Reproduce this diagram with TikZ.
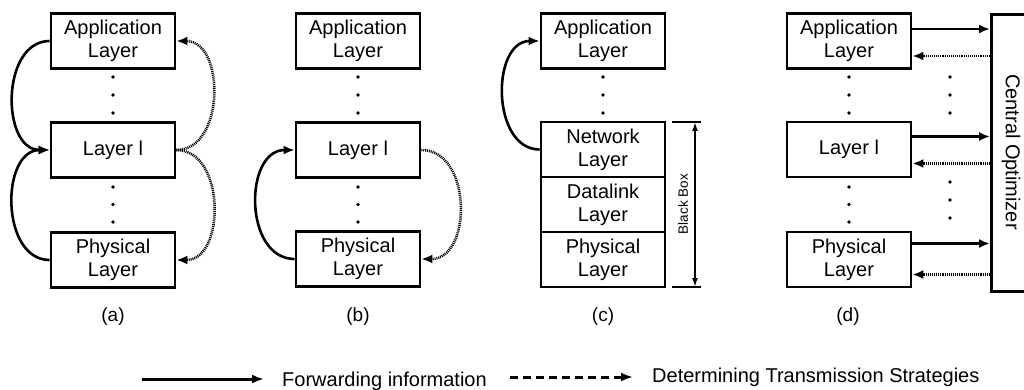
\documentclass[tikz,border=0pt]{standalone}
\usepackage{fontspec}
\setmainfont{Liberation Sans}
\usetikzlibrary{arrows.meta,calc}

\tikzset{
  layerbox/.style={draw, line width=2.7pt, minimum width=124pt, minimum height=55pt,
    inner sep=0pt, align=center, font=\fontsize{20}{23}\selectfont},
  fwd/.style={line width=2.6pt, -{Latex[length=11pt,width=9pt]}},
  strat/.style={line width=2.6pt, dash pattern=on 1pt off 0.9pt, -{Latex[length=11pt,width=9pt]}},
  caption/.style={font=\fontsize{19}{22}\selectfont, inner sep=0pt},
  legendtext/.style={font=\fontsize{20}{23}\selectfont, inner sep=0pt, anchor=base west},
}

\begin{document}
\begin{tikzpicture}[x=1pt, y=-1pt]
\clip (0,0) rectangle (1024,390);
\useasboundingbox (0,0) rectangle (1024,390);

% vertical ellipsis of three dots
\newcommand{\vdotsat}[3]{%
  \fill (#1,#2) circle (1.8);
  \fill (#1,{(#2+#3)/2}) circle (1.8);
  \fill (#1,#3) circle (1.8);}

% ---------- (a) ----------
\node[layerbox] (appa) at (113,41) {Application\\Layer};
\node[layerbox] (la)   at (113,150) {Layer l};
\node[layerbox] (phya) at (113,260) {Physical\\Layer};
\vdotsat{113}{77}{113}
\vdotsat{113}{187}{222}
\draw[fwd] (appa.west) to[out=180,in=180,looseness=1.15] (la.west);
\draw[fwd] (phya.west) to[out=180,in=180,looseness=1.15] (la.west);
\draw[strat] (la.east) to[out=0,in=0,looseness=1.15] (appa.east);
\draw[strat] (la.east) to[out=0,in=0,looseness=1.15] (phya.east);
\node[caption] (capa) at (113,317) {(a)};

% ---------- (b) ----------
\node[layerbox] (appb) at (358,41) {Application\\Layer};
\node[layerbox] (lb)   at (358,150) {Layer l};
\node[layerbox] (phyb) at (358,259) {Physical\\Layer};
\vdotsat{358}{77}{113}
\vdotsat{358}{187}{222}
\draw[fwd] (phyb.west) to[out=180,in=180,looseness=1.2] (lb.west);
\draw[strat] (lb.east) to[out=0,in=0,looseness=1.2] (phyb.east);
\node[caption] (capb) at (358,317) {(b)};

% ---------- (c) ----------
\node[layerbox] (appc) at (603,41) {Application\\Layer};
\node[layerbox] (netc) at (603,149.5) {Network\\Layer};
\node[layerbox] (dlc)  at (603,204.5) {Datalink\\Layer};
\node[layerbox] (phyc) at (603,259.5) {Physical\\Layer};
\vdotsat{603}{77}{113}
\draw[fwd] (netc.west) to[out=180,in=180,looseness=1.15] (appc.west);
% black box bracket
\coordinate (bbtop) at (695,122);
\coordinate (bbbot) at (695,287);
\draw[line width=2.6pt] (672,122) -- (701,122);
\draw[line width=2.6pt] (672,287) -- (701,287);
\draw[line width=1.7pt, {Latex[length=9pt,width=6pt]}-{Latex[length=9pt,width=6pt]}] (bbtop) -- (bbbot);
\node[rotate=90, font=\fontsize{13.5}{16}\selectfont, inner sep=0pt] (bbtext) at (683,204) {Black Box};
\node[caption] (capc) at (603,317) {(c)};

% ---------- (d) ----------
\node[layerbox] (appd) at (849,41) {Application\\Layer};
\node[layerbox] (ld)   at (849,149.5) {Layer l};
\node[layerbox] (phyd) at (849,259.5) {Physical\\Layer};
\vdotsat{849}{77}{113}
\vdotsat{849}{187}{222}
\vdotsat{950}{77}{113}
\vdotsat{950}{182}{218}
\node[draw, line width=2.7pt, minimum width=60pt, minimum height=277pt, inner sep=0pt, anchor=north west] (opt) at (990,13) {};
\node[rotate=-90, font=\fontsize{20}{23}\selectfont, inner sep=0pt] (opttext) at (1011,152) {Central Optimizer};
% ports on the right side of each layer box
\coordinate (appout) at ($(appd.east)+(0,-12)$);
\coordinate (appin)  at ($(appd.east)+(0,15)$);
\coordinate (lout)   at ($(ld.east)+(0,-13)$);
\coordinate (lin)    at ($(ld.east)+(0,14)$);
\coordinate (phyout) at ($(phyd.east)+(0,-16)$);
\coordinate (phyin)  at ($(phyd.east)+(0,15)$);
\draw[fwd]   (appout) -- (appout -| opt.west);
\draw[strat] (appin -| opt.west) -- (appin);
\draw[fwd]   (lout) -- (lout -| opt.west);
\draw[strat] (lin -| opt.west) -- (lin);
\draw[fwd]   (phyout) -- (phyout -| opt.west);
\draw[strat] (phyin -| opt.west) -- (phyin);
\node[caption] (capd) at (848,317) {(d)};

% ---------- legend ----------
\coordinate (ls1) at (142,379);
\coordinate (le1) at (264,379);
\draw[line width=3pt, -{Latex[length=12pt,width=9pt]}] (ls1) -- (le1);
\node[legendtext] (lt1) at (282,386) {Forwarding information};
\coordinate (ls2) at (510,377);
\coordinate (le2) at (633,377);
\draw[line width=3pt, dash pattern=on 7.5pt off 5.5pt, -{Latex[length=12pt,width=9pt]}] (ls2) -- (le2);
\node[legendtext] (lt2) at (652,382) {Determining Transmission Strategies};
\end{tikzpicture}
\end{document}
